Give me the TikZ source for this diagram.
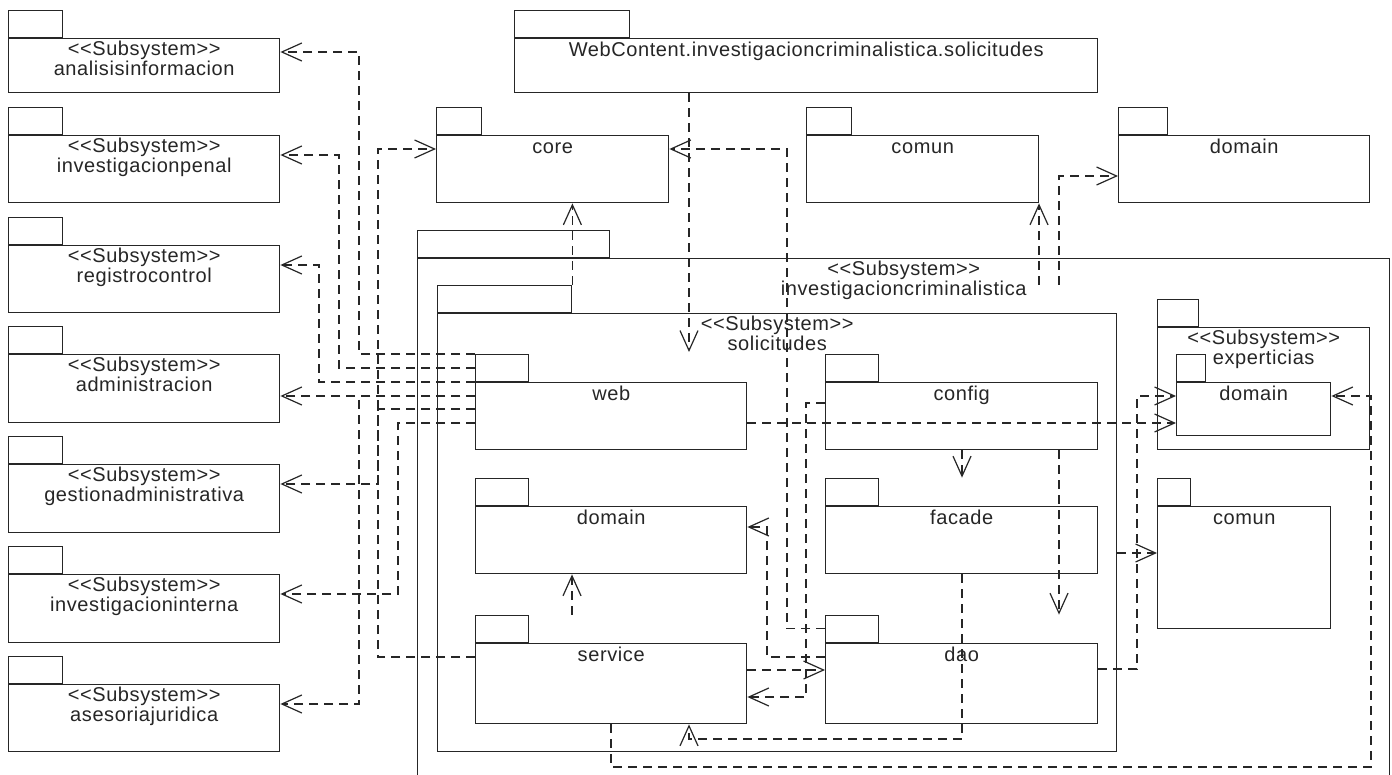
\documentclass[tikz,border=0pt]{standalone}
\usepackage{fontspec}
\setmainfont{Liberation Sans}[LetterSpace=3]
\usetikzlibrary{arrows.meta}

\begin{document}
\begin{tikzpicture}[x=1pt, y=-1pt,
    pkg/.style={draw=black!85, line width=1.4pt, inner sep=0pt, anchor=north west},
    tab/.style={draw=black!85, line width=1.4pt, inner sep=0pt, anchor=south west,
                minimum height=27pt},
    txt/.style={anchor=north, inner sep=0pt, align=center, text=black!85,
                font=\fontsize{20}{19.5}\selectfont, execute at begin node={\rule{0pt}{15pt}}},
    dep/.style={draw=black!85, line width=1.2pt, dash pattern=on 9pt off 6pt,
                -{Straight Barb[length=20pt, width=18pt]}}
  ]
  \useasboundingbox (0,0) rectangle (1392,775);
  \clip (0,0) rectangle (1392,775);
  \fill[white] (0,0) rectangle (1392,775);

  % subsystems on the left
  \node[pkg, minimum width=271pt, minimum height=54pt] (analisis) at (8,38) {};
  \node[tab, minimum width=54pt] (analisis-tab) at (analisis.north west) {};
  \node[txt] (analisis-l) at ([yshift=-3pt]analisis.north) {<{}<Subsystem>{}>\\analisisinformacion};

  \node[pkg, minimum width=271pt, minimum height=67pt] (penal) at (8,135) {};
  \node[tab, minimum width=54pt] (penal-tab) at (penal.north west) {};
  \node[txt] (penal-l) at ([yshift=-3pt]penal.north) {<{}<Subsystem>{}>\\investigacionpenal};

  \node[pkg, minimum width=271pt, minimum height=67pt] (registro) at (8,245) {};
  \node[tab, minimum width=54pt] (registro-tab) at (registro.north west) {};
  \node[txt] (registro-l) at ([yshift=-3pt]registro.north) {<{}<Subsystem>{}>\\registrocontrol};

  \node[pkg, minimum width=271pt, minimum height=68pt] (admin) at (8,354) {};
  \node[tab, minimum width=54pt] (admin-tab) at (admin.north west) {};
  \node[txt] (admin-l) at ([yshift=-3pt]admin.north) {<{}<Subsystem>{}>\\administracion};

  \node[pkg, minimum width=271pt, minimum height=68pt] (gestion) at (8,464) {};
  \node[tab, minimum width=54pt] (gestion-tab) at (gestion.north west) {};
  \node[txt] (gestion-l) at ([yshift=-3pt]gestion.north) {<{}<Subsystem>{}>\\gestionadministrativa};

  \node[pkg, minimum width=271pt, minimum height=68pt] (interna) at (8,574) {};
  \node[tab, minimum width=54pt] (interna-tab) at (interna.north west) {};
  \node[txt] (interna-l) at ([yshift=-3pt]interna.north) {<{}<Subsystem>{}>\\investigacioninterna};

  \node[pkg, minimum width=271pt, minimum height=67pt] (asesoria) at (8,684) {};
  \node[tab, minimum width=54pt] (asesoria-tab) at (asesoria.north west) {};
  \node[txt] (asesoria-l) at ([yshift=-3pt]asesoria.north) {<{}<Subsystem>{}>\\asesoriajuridica};

  % top row
  \node[pkg, minimum width=583pt, minimum height=54pt] (webcontent) at (514,38) {};
  \node[tab, minimum width=115pt] (webcontent-tab) at (webcontent.north west) {};
  \node[txt] (webcontent-l) at ([yshift=-3pt]webcontent.north) {WebContent.investigacioncriminalistica.solicitudes};

  \node[pkg, minimum width=232pt, minimum height=67pt] (core) at (436,135) {};
  \node[tab, minimum width=45pt] (core-tab) at (core.north west) {};
  \node[txt] (core-l) at ([yshift=-3pt]core.north) {core};

  \node[pkg, minimum width=232pt, minimum height=67pt] (comunTop) at (806,135) {};
  \node[tab, minimum width=45pt] (comunTop-tab) at (comunTop.north west) {};
  \node[txt] (comunTop-l) at ([yshift=-3pt]comunTop.north) {comun};

  \node[pkg, minimum width=251pt, minimum height=67pt] (domainTop) at (1118,135) {};
  \node[tab, minimum width=49pt] (domainTop-tab) at (domainTop.north west) {};
  \node[txt] (domainTop-l) at ([yshift=-3pt]domainTop.north) {domain};

  % investigacioncriminalistica
  \node[pkg, minimum width=972pt, minimum height=542pt] (invcrim) at (417,258) {};
  \node[tab, minimum width=192pt] (invcrim-tab) at (invcrim.north west) {};
  \node[txt] (invcrim-l) at ([yshift=-3pt]invcrim.north) {<{}<Subsystem>{}>\\investigacioncriminalistica};

  \node[pkg, minimum width=679pt, minimum height=438pt] (solicitudes) at (437,313) {};
  \node[tab, minimum width=134pt] (solicitudes-tab) at (solicitudes.north west) {};
  \node[txt] (solicitudes-l) at ([yshift=-3pt]solicitudes.north) {<{}<Subsystem>{}>\\solicitudes};

  \node[pkg, minimum width=271pt, minimum height=67pt] (web) at (475,382) {};
  \node[tab, minimum width=53pt] (web-tab) at (web.north west) {};
  \node[txt] (web-l) at ([yshift=-3pt]web.north) {web};

  \node[pkg, minimum width=272pt, minimum height=67pt] (config) at (825,382) {};
  \node[tab, minimum width=53pt] (config-tab) at (config.north west) {};
  \node[txt] (config-l) at ([yshift=-3pt]config.north) {config};

  \node[pkg, minimum width=271pt, minimum height=67pt] (domainSol) at (475,506) {};
  \node[tab, minimum width=53pt] (domainSol-tab) at (domainSol.north west) {};
  \node[txt] (domainSol-l) at ([yshift=-3pt]domainSol.north) {domain};

  \node[pkg, minimum width=272pt, minimum height=67pt] (facade) at (825,506) {};
  \node[tab, minimum width=53pt] (facade-tab) at (facade.north west) {};
  \node[txt] (facade-l) at ([yshift=-3pt]facade.north) {facade};

  \node[pkg, minimum width=271pt, minimum height=80pt] (service) at (475,643) {};
  \node[tab, minimum width=53pt] (service-tab) at (service.north west) {};
  \node[txt] (service-l) at ([yshift=-3pt]service.north) {service};

  \node[pkg, minimum width=272pt, minimum height=80pt] (dao) at (825,643) {};
  \node[tab, minimum width=53pt] (dao-tab) at (dao.north west) {};
  \node[txt] (dao-l) at ([yshift=-3pt]dao.north) {dao};

  \node[pkg, minimum width=212pt, minimum height=122pt] (experticias) at (1157,327) {};
  \node[tab, minimum width=41pt] (experticias-tab) at (experticias.north west) {};
  \node[txt] (experticias-l) at ([yshift=-3pt]experticias.north) {<{}<Subsystem>{}>\\experticias};

  \node[pkg, minimum width=154pt, minimum height=53pt] (domainExp) at (1176,382) {};
  \node[tab, minimum width=29pt] (domainExp-tab) at (domainExp.north west) {};
  \node[txt] (domainExp-l) at ([yshift=-3pt]domainExp.north) {domain};

  \node[pkg, minimum width=173pt, minimum height=122pt] (comunExp) at (1157,506) {};
  \node[tab, minimum width=33pt] (comunExp-tab) at (comunExp.north west) {};
  \node[txt] (comunExp-l) at ([yshift=-3pt]comunExp.north) {comun};

  % web to the subsystems on the left
  \draw[dep] (web.west |- 0,354) -| (359,52) -- (analisis.east |- 0,52);
  \draw[dep] (web.west |- 0,368) -| (339,155) -- (penal.east |- 0,155);
  \draw[dep] (web.west |- 0,382) -| (319,265) -- (registro.east |- 0,265);
  \draw[dep] (web.west |- 0,396) -- (admin.east |- 0,396);
  \draw[dep] (web.west |- 0,396) -| (359,704) -- (asesoria.east |- 0,704);
  \draw[dep] (web.west |- 0,409) -| (378,484) -- (gestion.east |- 0,484);
  \draw[dep] (web.west |- 0,423) -| (398,594) -- (interna.east |- 0,594);

  % core
  \draw[dep] (service.west |- 0,657) -| (378,149) -- (core.west |- 0,149);
  \draw[dep] (solicitudes-tab.north east) -- (solicitudes-tab.north east |- core.south);
  \draw[dep] (dao-tab.west) -| (787,149) -- (core.east |- 0,149);

  % WebContent and the packages on top
  \coordinate (solicitudes-in) at (689,352);
  \draw[dep] (webcontent.south -| solicitudes-in) -- (solicitudes-in);
  \coordinate (invcrim-out1) at (1039,285);
  \coordinate (invcrim-out2) at (1059,285);
  \draw[dep] (invcrim-out1) -- (invcrim-out1 |- comunTop.south);
  \draw[dep] (invcrim-out2) |- (domainTop.west |- 0,176);

  % experticias
  \draw[dep] (web.east |- 0,423) -- (domainExp.west |- 0,423);
  \draw[dep] (dao.east |- 0,669) -| (1137,396) -- (domainExp.west |- 0,396);
  \draw[dep] (solicitudes.east |- 0,553) -- (comunExp.west |- 0,553);
  \draw[dep] (service.south -| 611,0) |- (1371,767) |- (domainExp.east |- 0,396);

  % inside solicitudes
  \draw[dep] (config.south -| 962,0) -- (facade-tab.north -| 962,0);
  \draw[dep] (config.south -| 1059,0) -- (dao-tab.north -| 1059,0);
  \draw[dep] (facade.south -| 962,0) |- (689,739) -- (service.south -| 689,0);
  \draw[dep] (dao.west |- 0,657) -| (767,527) -- (domainSol.east |- 0,527);
  \draw[dep] (config.west |- 0,403) -| (806,697) -- (service.east |- 0,697);
  \draw[dep] (service.east |- 0,670) -- (dao.west |- 0,670);
  \draw[dep] (service-tab.north -| 572,0) -- (domainSol.south -| 572,0);
\end{tikzpicture}
\end{document}
